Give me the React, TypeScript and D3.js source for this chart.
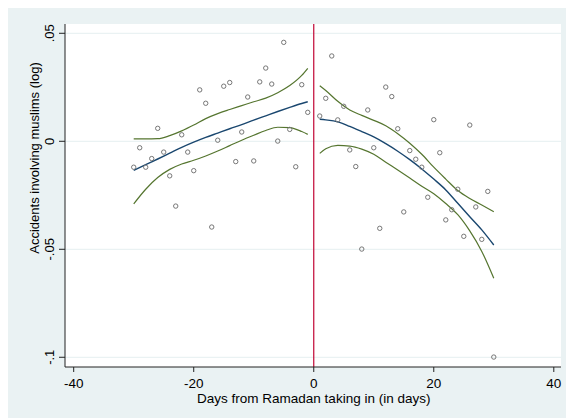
import * as d3 from 'd3';
import React from 'react';

// scatter: days before / after Ramadan start, log accidents
const daysBefore = [-30, -29, -28, -27, -26, -25, -24, -23, -22, -21, -20, -19, -18, -17, -16, -15, -14, -13, -12, -11, -10, -9, -8, -7, -6, -5, -4, -3, -2, -1];
const valuesBefore = [-0.012, -0.003, -0.012, -0.008, 0.006, -0.005, -0.016, -0.030, 0.003, -0.005, -0.0136, 0.0238, 0.0176, -0.0397, 0.0005, 0.0255, 0.0272, -0.0094, 0.0043, 0.0205, -0.0091, 0.0275, 0.0339, 0.0265, 0.0001, 0.0458, 0.0055, -0.0118, 0.0262, 0.0134];
const daysAfter = [1, 2, 3, 4, 5, 6, 7, 8, 9, 10, 11, 12, 13, 14, 15, 16, 17, 18, 19, 20, 21, 22, 23, 24, 25, 26, 27, 28, 29, 30];
const valuesAfter = [0.0117, 0.0199, 0.0395, 0.0099, 0.0162, -0.004, -0.0117, -0.0499, 0.0145, -0.003, -0.0403, 0.0251, 0.0207, 0.0058, -0.0327, -0.0043, -0.0083, -0.012, -0.0259, 0.01, -0.0053, -0.0364, -0.0317, -0.0222, -0.044, 0.0075, -0.0304, -0.0454, -0.0232, -0.0999];

// local polynomial fit with CI, before
const fitDaysBefore = [-30, -28, -26, -24, -22, -20, -18, -16, -14, -12, -10, -8, -6, -4, -2, -1];
const fitBefore = [-0.0135, -0.0108, -0.0082, -0.0055, -0.0028, -0.0004, 0.0018, 0.0038, 0.0058, 0.0077, 0.0098, 0.0118, 0.0138, 0.0157, 0.0175, 0.0183];
const upperBefore = [0.0011, 0.0011, 0.0012, 0.0026, 0.0048, 0.0075, 0.0105, 0.0128, 0.0147, 0.0165, 0.0183, 0.02, 0.0225, 0.0258, 0.0305, 0.0338];
const lowerBefore = [-0.029, -0.0222, -0.0168, -0.013, -0.0105, -0.0088, -0.0068, -0.0045, -0.002, 0.0005, 0.0028, 0.005, 0.0065, 0.0063, 0.0045, 0.0032];

// fit with CI, after
const fitDaysAfter = [1, 2, 4, 6, 8, 10, 12, 14, 16, 18, 20, 22, 24, 26, 28, 30];
const fitAfter = [0.0102, 0.0099, 0.009, 0.0069, 0.0045, 0.002, -0.0011, -0.0046, -0.0085, -0.0128, -0.0175, -0.0225, -0.0287, -0.0349, -0.041, -0.048];
const upperAfter = [0.0257, 0.0235, 0.0185, 0.0145, 0.012, 0.0097, 0.0072, 0.0035, -0.0009, -0.006, -0.012, -0.0175, -0.0228, -0.0265, -0.0295, -0.0326];
const lowerAfter = [-0.0056, -0.0035, -0.0019, -0.0022, -0.0036, -0.006, -0.0097, -0.0133, -0.017, -0.0208, -0.0243, -0.0288, -0.034, -0.0415, -0.051, -0.0634];

const xTicks = [-40, -20, 0, 20, 40];
const yTicks = [0.05, 0, -0.05, -0.1];
const yTickLabels = ['.05', '0', '-.05', '-.1'];

const W = 558;
const H = 410;
const plot = { left: 57, right: 553, top: 16, bottom: 359 };
const bg = '#eaf2f3';
const navy = '#1a476f';
const green = '#55752f';
const font = 'Arial, "Liberation Sans", Helvetica, sans-serif';

function App() {
    const x = d3.scaleLinear().domain([-41.45, 41.2]).range([plot.left, plot.right]);
    const y = d3.scaleLinear().domain([-0.1045, 0.0543]).range([plot.bottom, plot.top]);

    const line = d3.line<[number, number]>()
        .x(d => x(d[0]))
        .y(d => y(d[1]))
        .curve(d3.curveMonotoneX);

    const pairs = (xs: number[], ys: number[]) => xs.map((v, i) => [v, ys[i]] as [number, number]);

    const greens = [
        pairs(fitDaysBefore, upperBefore),
        pairs(fitDaysBefore, lowerBefore),
        pairs(fitDaysAfter, upperAfter),
        pairs(fitDaysAfter, lowerAfter),
    ];
    const blues = [pairs(fitDaysBefore, fitBefore), pairs(fitDaysAfter, fitAfter)];
    const points = pairs(daysBefore, valuesBefore).concat(pairs(daysAfter, valuesAfter));

    return (
        <svg
            width={W}
            height={H}
            style={{ display: 'block', position: 'absolute', left: 8, top: 8 }}
            fontFamily={font}
        >
            <rect x={0} y={0} width={W} height={H} fill={bg} />
            <rect x={plot.left} y={plot.top} width={plot.right - plot.left} height={plot.bottom - plot.top} fill="#fff" />

            {yTicks.map(t => (
                <line key={'g' + t} x1={plot.left} x2={plot.right} y1={y(t)} y2={y(t)} stroke={bg} strokeWidth={1.2} />
            ))}

            {greens.map((d, i) => (
                <path key={'ci' + i} d={line(d) || ''} fill="none" stroke={green} strokeWidth={1.2} />
            ))}
            {blues.map((d, i) => (
                <path key={'fit' + i} d={line(d) || ''} fill="none" stroke={navy} strokeWidth={1.4} />
            ))}

            {points.map((p, i) => (
                <circle key={i} cx={x(p[0])} cy={y(p[1])} r={2.2} fill="none" stroke="#777" strokeWidth={1} />
            ))}

            <line x1={x(0)} x2={x(0)} y1={plot.top} y2={plot.bottom} stroke="#c10534" strokeWidth={1.2} />

            {/* axes */}
            <line x1={plot.left} x2={plot.left} y1={plot.top} y2={plot.bottom} stroke="#222" />
            <line x1={plot.left} x2={plot.right} y1={plot.bottom} y2={plot.bottom} stroke="#222" />

            {yTicks.map((t, i) => (
                <g key={'yt' + t}>
                    <line x1={plot.left - 6} x2={plot.left} y1={y(t)} y2={y(t)} stroke="#222" />
                    <text
                        transform={`translate(${plot.left - 11},${y(t)}) rotate(-90)`}
                        textAnchor="middle"
                        fontSize={13}
                        fill="#000"
                    >{yTickLabels[i]}</text>
                </g>
            ))}
            {xTicks.map(t => (
                <g key={'xt' + t}>
                    <line x1={x(t)} x2={x(t)} y1={plot.bottom} y2={plot.bottom + 5} stroke="#222" />
                    <text x={x(t)} y={plot.bottom + 21} textAnchor="middle" fontSize={13.5} fill="#000">{t}</text>
                </g>
            ))}

            <text x={x(0)} y={plot.bottom + 36} textAnchor="middle" fontSize={13.5} fill="#000">
                Days from Ramadan taking in (in days)
            </text>
            <text
                transform="translate(31,150) rotate(-90)"
                textAnchor="middle"
                fontSize={13}
                fill="#000"
            >Accidents involving muslims (log)</text>
        </svg>
    );
}

export default App;
